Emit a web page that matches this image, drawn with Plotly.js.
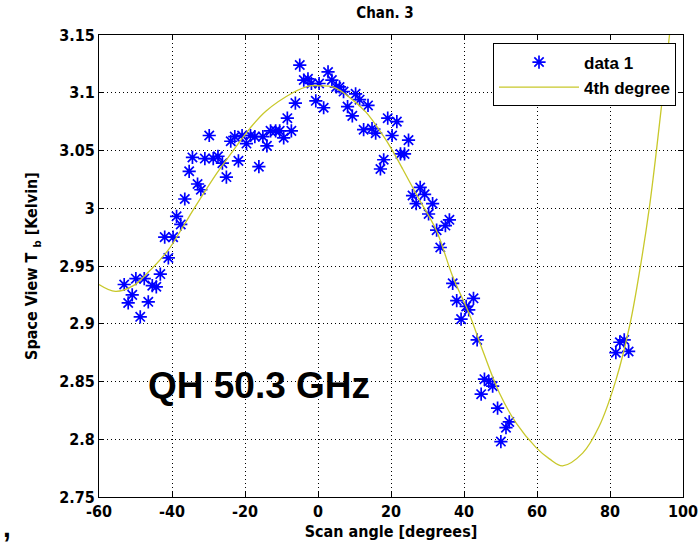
<!DOCTYPE html>
<html>
<head>
<meta charset="utf-8">
<script src="https://cdn.plot.ly/plotly-3.0.1.min.js"></script>
<style>html,body{margin:0;padding:0;background:#fff;}#chart{width:700px;height:547px;}</style>
</head>
<body>
<div id="chart"></div>
<script>
// Measured scan data (degrees, Kelvin)
const scanAngle = [-53.1,-52.0,-50.9,-49.9,-48.7,-47.6,-46.5,-45.4,-44.3,-43.2,-42.0,-41.0,-39.7,-38.75,-37.6,-36.5,-35.3,-34.4,-33.0,-32.1,-31.0,-29.8,-28.7,-27.4,-26.2,-25.1,-23.9,-22.8,-21.8,-20.8,-19.6,-18.5,-17.3,-16.2,-15.1,-14.0,-13.0,-11.6,-10.5,-9.4,-8.4,-7.3,-6.2,-5.0,-3.9,-2.75,-1.8,-0.6,0.3,1.55,2.75,3.8,5.0,5.9,7.0,8.1,9.4,10.3,11.4,12.5,13.7,14.8,15.8,17.1,18.0,19.1,20.3,21.6,22.6,23.7,24.8,25.9,26.9,28.0,29.2,30.3,31.4,32.5,33.5,34.9,36.0,36.9,38.0,39.2,40.6,41.3,42.6,43.6,44.7,45.6,46.8,47.85,49.2,50.1,51.5,52.4,81.6,82.7,83.9,85.1];
const spaceTb = [2.934,2.918,2.925,2.939,2.906,2.939,2.919,2.933,2.932,2.943,2.975,2.957,2.975,2.993,2.986,3.008,3.032,3.044,3.021,3.016,3.043,3.063,3.043,3.045,3.039,3.027,3.058,3.062,3.041,3.063,3.056,3.063,3.062,3.036,3.062,3.054,3.067,3.067,3.067,3.061,3.078,3.067,3.091,3.124,3.111,3.112,3.108,3.093,3.108,3.087,3.118,3.111,3.105,3.105,3.101,3.088,3.080,3.099,3.094,3.068,3.089,3.069,3.065,3.034,3.042,3.078,3.063,3.075,3.047,3.047,3.059,3.011,3.004,3.018,3.012,2.995,3.004,2.981,2.966,2.985,2.990,2.935,2.920,2.904,2.915,2.912,2.922,2.886,2.839,2.852,2.850,2.846,2.827,2.798,2.810,2.815,2.875,2.884,2.886,2.876];

// 4th degree fit curve
const fitAngle = [-60,-55.5,-50.6,-47,-41,-37,-33.5,-27.8,-23,-18.7,-14.3,-6.9,-2.3,0.5,4.1,8.65,13.2,17.8,20,23.2,27.3,32.4,36.9,41.5,45.1,49.7,54.3,59.7,63.4,67,72.5,77,81.6,85.5,88.4,90.8,92.8,94.6,96.3];
const fitTb = [2.934,2.928,2.933,2.943,2.964,2.984,3.002,3.030,3.051,3.069,3.084,3.100,3.106,3.106,3.105,3.096,3.083,3.063,3.052,3.034,3.010,2.981,2.941,2.908,2.877,2.840,2.814,2.793,2.783,2.777,2.788,2.811,2.851,2.900,2.951,3.001,3.052,3.102,3.150];

const xTicks = [-60,-40,-20,0,20,40,60,80,100];
const yTicks = [2.75,2.8,2.85,2.9,2.95,3,3.05,3.1,3.15];

const FONT = "'Liberation Sans Narrow', 'DejaVu Sans Condensed', 'Liberation Sans', sans-serif";
const W = 700, H = 547;
const L = 99, R = 683, T = 34.5, B = 497;
const px = v => (v - L) / (R - L);
const py = v => (B - v) / (B - T);

const traces = [
  {
    x: scanAngle, y: spaceTb, type: 'scatter', mode: 'markers', name: 'data 1',
    marker: {symbol: 'asterisk-open', size: 11, color: '#0000ff', line: {color: '#0000ff', width: 1.7}}
  },
  {
    x: fitAngle, y: fitTb, type: 'scatter', mode: 'lines', name: '4th degree',
    line: {color: '#c8c82a', width: 1.3, shape: 'spline', smoothing: 1}
  }
];

const axisCommon = {
  showline: true, linecolor: '#000', linewidth: 1, mirror: 'ticks',
  ticks: 'inside', ticklen: 5, tickcolor: '#000',
  showgrid: true, gridcolor: '#000', gridwidth: 1, griddash: '1px,3px',
  zeroline: false,
  tickfont: {family: FONT, size: 16, color: '#000', weight: 'bold'}
};

const layout = {
  width: W, height: H,
  margin: {l: L, r: W - R, t: T, b: H - B, pad: 0},
  paper_bgcolor: '#fff', plot_bgcolor: '#fff',
  showlegend: true,
  title: {text: 'Chan. 3', font: {family: FONT, size: 15, color: '#000', weight: 'bold'}, x: px(385), xref: 'paper', xanchor: 'center', y: 1 - 13 / H, yref: 'container', yanchor: 'middle'},
  xaxis: Object.assign({}, axisCommon, {
    range: [-60, 100], tickvals: xTicks, ticktext: xTicks.map(String),
    title: {text: 'Scan angle [degrees]', font: {family: FONT, size: 16, color: '#000', weight: 'bold'}, standoff: 5}
  }),
  yaxis: Object.assign({}, axisCommon, {
    range: [2.75, 3.15], tickvals: yTicks, ticktext: yTicks.map(String),
    title: {text: 'Space View T <sub>b</sub> [Kelvin]', font: {family: FONT, size: 16, color: '#000', weight: 'bold'}, standoff: 17}
  }),
  legend: {
    x: px(676), y: py(43), xanchor: 'right', yanchor: 'top',
    bgcolor: '#fff', bordercolor: '#000', borderwidth: 1,
    font: {family: "'Liberation Sans', Arial, sans-serif", size: 17, color: '#000', weight: 'bold'},
    itemwidth: 80, tracegroupgap: 0
  },
  annotations: [
    {text: 'QH 50.3 GHz', xref: 'paper', yref: 'paper', x: px(259), y: py(385), xanchor: 'center', yanchor: 'middle', showarrow: false,
     font: {family: "'Liberation Sans', Arial, sans-serif", size: 37, color: '#000', weight: 'bold'}},
    {text: ',', xref: 'paper', yref: 'paper', x: px(7), y: py(528), xanchor: 'center', yanchor: 'middle', showarrow: false,
     font: {family: "'Liberation Sans', Arial, sans-serif", size: 28, color: '#000', weight: 'bold'}}
  ]
};

Plotly.newPlot('chart', traces, layout, {displayModeBar: false, staticPlot: true});
</script>
</body>
</html>
